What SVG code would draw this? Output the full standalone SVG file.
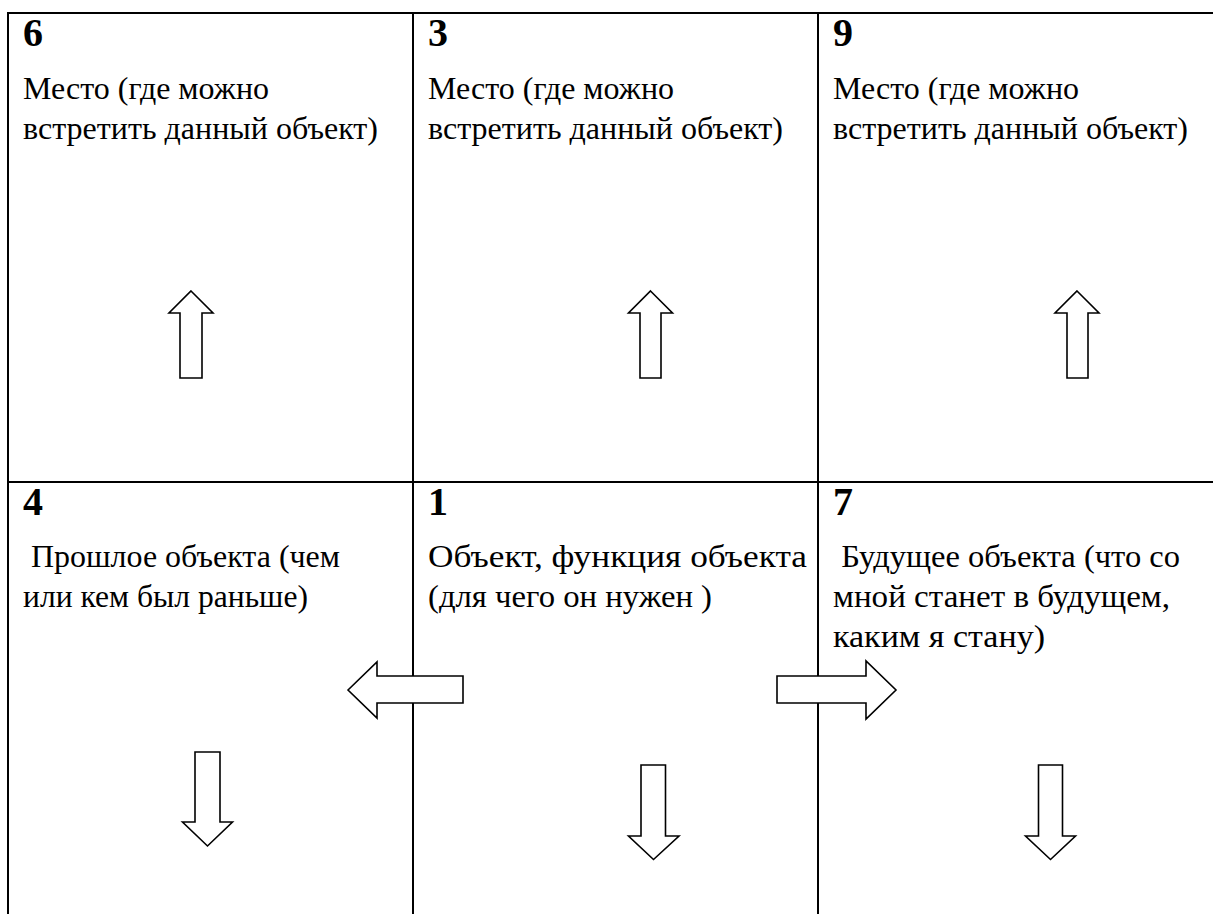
<svg xmlns="http://www.w3.org/2000/svg" width="1213" height="914" viewBox="0 0 1213 914">
<style>
.grid{stroke:#000;stroke-width:2;fill:none}
.arr{fill:#fff;stroke:#000;stroke-width:1.6;stroke-linejoin:miter}
.num{font-family:"Liberation Serif","Times New Roman",serif;font-weight:bold;font-size:40px;fill:#000}
.txt{font-family:"Liberation Serif","Times New Roman",serif;font-size:32px;fill:#000}
</style>
<rect width="1213" height="914" fill="#fff"/>
<g id="grid">
<line class="grid" x1="7" y1="13" x2="1213" y2="13"/>
<line class="grid" x1="7" y1="482" x2="1213" y2="482"/>
<line class="grid" x1="8" y1="12" x2="8" y2="914"/>
<line class="grid" x1="413" y1="12" x2="413" y2="914"/>
<line class="grid" x1="818" y1="12" x2="818" y2="914"/>
</g>
<g id="cell6">
<text class="num" x="23" y="46">6</text>
<text class="txt" x="23" y="99" textLength="246" lengthAdjust="spacingAndGlyphs">Место (где можно</text>
<text class="txt" x="23" y="139" textLength="355" lengthAdjust="spacingAndGlyphs">встретить данный объект)</text>
</g>
<g id="cell3">
<text class="num" x="428" y="46">3</text>
<text class="txt" x="428" y="99" textLength="246" lengthAdjust="spacingAndGlyphs">Место (где можно</text>
<text class="txt" x="428" y="139" textLength="355" lengthAdjust="spacingAndGlyphs">встретить данный объект)</text>
</g>
<g id="cell9">
<text class="num" x="833" y="46">9</text>
<text class="txt" x="833" y="99" textLength="246" lengthAdjust="spacingAndGlyphs">Место (где можно</text>
<text class="txt" x="833" y="139" textLength="355" lengthAdjust="spacingAndGlyphs">встретить данный объект)</text>
</g>
<g id="cell4">
<text class="num" x="23" y="515">4</text>
<text class="txt" x="23" y="567" xml:space="preserve" textLength="317" lengthAdjust="spacingAndGlyphs"> Прошлое объекта (чем</text>
<text class="txt" x="23" y="607" textLength="285" lengthAdjust="spacingAndGlyphs">или кем был раньше)</text>
</g>
<g id="cell1">
<text class="num" x="428" y="515">1</text>
<text class="txt" x="428" y="567" textLength="379" lengthAdjust="spacingAndGlyphs">Объект, функция объекта</text>
<text class="txt" x="428" y="607" xml:space="preserve" textLength="284" lengthAdjust="spacingAndGlyphs">(для чего он нужен )</text>
</g>
<g id="cell7">
<text class="num" x="833" y="515">7</text>
<text class="txt" x="833" y="567" xml:space="preserve" textLength="347" lengthAdjust="spacingAndGlyphs"> Будущее объекта (что со</text>
<text class="txt" x="833" y="607" textLength="337" lengthAdjust="spacingAndGlyphs">мной станет в будущем,</text>
<text class="txt" x="833" y="647" textLength="212" lengthAdjust="spacingAndGlyphs">каким я стану)</text>
</g>
<g id="connectors">
<polygon class="arr" points="191,291 213,313 202,313 202,378 180,378 180,313 169,313"/>
<polygon class="arr" points="650.5,291 672.5,313 661,313 661,378 640,378 640,313 628.5,313"/>
<polygon class="arr" points="1077,291 1099,313 1088,313 1088,378 1067,378 1067,313 1055,313"/>
<polygon class="arr" points="195,752 220,752 220,822 232.5,822 207.5,846 182.5,822 195,822"/>
<polygon class="arr" points="641,765 665.5,765 665.5,836 679,836 653.5,859.5 628.5,836 641,836"/>
<polygon class="arr" points="1038.5,765 1062.5,765 1062.5,836 1075.5,836 1050.5,859.5 1025.5,836 1038.5,836"/>
<polygon class="arr" points="348,690 377,662 377,676 463,676 463,703 377,703 377,718"/>
<polygon class="arr" points="777,676 866,676 866,661 896,690 866,719 866,703 777,703"/>
</g>
</svg>
